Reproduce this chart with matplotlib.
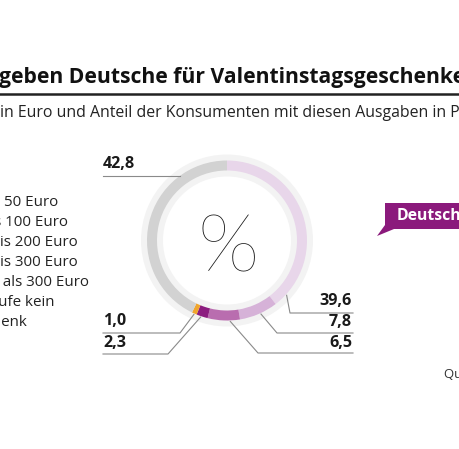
import matplotlib
matplotlib.use("Agg")
import matplotlib.pyplot as plt
from matplotlib.patches import Wedge, Polygon
import numpy as np

plt.rcParams['font.family'] = ['Open Sans', 'DejaVu Sans']

# Data
categories = ["bis 50 Euro", "51 bis 100 Euro", "101 bis 200 Euro",
              "201 bis 300 Euro", "mehr als 300 Euro", "Ich kaufe kein Geschenk"]
values = [39.6, 7.8, 6.5, 2.3, 1.0, 42.8]
value_labels = ["39,6", "7,8", "6,5", "2,3", "1,0", "42,8"]
colors = ["#e8d6ea", "#d6b2d8", "#b96daf", "#8c1c7f", "#f0a52e", "#d2d2d2"]

W, H = 460, 449
fig = plt.figure(figsize=(W / 100, H / 100), dpi=100)
ax = fig.add_axes([0, 0, 1, 1])
ax.set_xlim(0, W)
ax.set_ylim(H, 0)
ax.set_aspect('equal')
ax.axis('off')

cx, cy = 227, 240.5
r_out, width = 80, 10

# pale background ring
ax.add_patch(Wedge((cx, cy), 86, 0, 360, width=22, facecolor="#f3f3f3", edgecolor="none"))

# segments (inverted y => increasing theta is clockwise on screen; top = 270)
total = sum(values)
start = 270.0
seg_angles = []
for v, c in zip(values, colors):
    span = v / total * 360.0
    ax.add_patch(Wedge((cx, cy), r_out, start, start + span, width=width,
                       facecolor=c, edgecolor="none"))
    seg_angles.append((start, start + span))
    start += span

def ring_point(theta_deg, r=r_out):
    t = np.deg2rad(theta_deg)
    return cx + r * np.cos(t), cy + r * np.sin(t)

line_kw = dict(color="#8a8a8a", lw=0.8)
lab_kw = dict(fontsize=11.6, fontweight='bold', color="#1a1a1a", va='center')

# right-side labels: (index, text_y, underline_y, elbow_x, anchor fraction in segment)
right = [(0, 301, 313, 290, 0.93), (1, 322, 333, 277, 0.45), (2, 343, 353, 258, 0.3)]
for i, ty, uy, ex, f in right:
    a0, a1 = seg_angles[i]
    px, py = ring_point(a0 + f * (a1 - a0), r_out + 1)
    ax.plot([px, ex, 353], [py, uy, uy], **line_kw)
    ax.text(352, ty, value_labels[i], ha='right', **lab_kw)

# left-side labels
left = [(4, 321, 333, 180, 0.5), (3, 343, 354, 168, 0.6)]
for i, ty, uy, ex, f in left:
    a0, a1 = seg_angles[i]
    px, py = ring_point(a0 + f * (a1 - a0), r_out + 1)
    ax.plot([103, ex, px], [uy, uy, py], **line_kw)
    ax.text(103, ty, value_labels[i], ha='left', **lab_kw)

# 42,8 label: horizontal line meeting ring
uy = 176
dx = -np.sqrt(r_out ** 2 - (uy - cy) ** 2)
ax.plot([103, cx + dx], [uy, uy], **line_kw)
ax.text(103, 164, value_labels[5], ha='left', **lab_kw)

# percent sign
ax.text(cx + 1, 249, "%", family=['Lato', 'DejaVu Sans'], fontsize=58, fontweight=100,
        ha='center', va='center', color="#1a1a1a")

# title and subtitle (cropped)
ax.text(-1, 77, "geben Deutsche für Valentinstagsgeschenke aus?", fontsize=15.2,
        fontweight='bold', color="#111111", ha='left', va='center')
ax.plot([0, W], [94, 94], color="#222222", lw=1.8)
ax.text(0, 113, "in Euro und Anteil der Konsumenten mit diesen Ausgaben in Prozent",
        fontsize=11.4, color="#222222", ha='left', va='center')

# legend (cropped on the left)
legend_lines = ["bis 50 Euro", "51 bis 100 Euro", "101 bis 200 Euro",
                "201 bis 300 Euro", "mehr als 300 Euro", "Ich kaufe kein", "Geschenk"]
legend_right = [58, 68, 78, 78, 89, 55, 27]
for k, (t, xr) in enumerate(zip(legend_lines, legend_right)):
    ax.text(xr, 203 + 20 * k, t, fontsize=10.9, color="#222222", ha='right', va='center')

# badge
badge = Polygon([(385, 203), (462, 203), (462, 229), (394, 229), (377, 236), (385, 225)],
                closed=True, facecolor="#8b1a7c", edgecolor="none")
ax.add_patch(badge)
ax.text(397, 216.5, "Deutschland", fontsize=11.3, fontweight='bold', color="white",
        ha='left', va='center')

# source (cropped)
ax.text(444, 374, "Quelle: Statista", fontsize=9.5, color="#333333", ha='left', va='center')

fig.savefig("out.png", dpi=100)
